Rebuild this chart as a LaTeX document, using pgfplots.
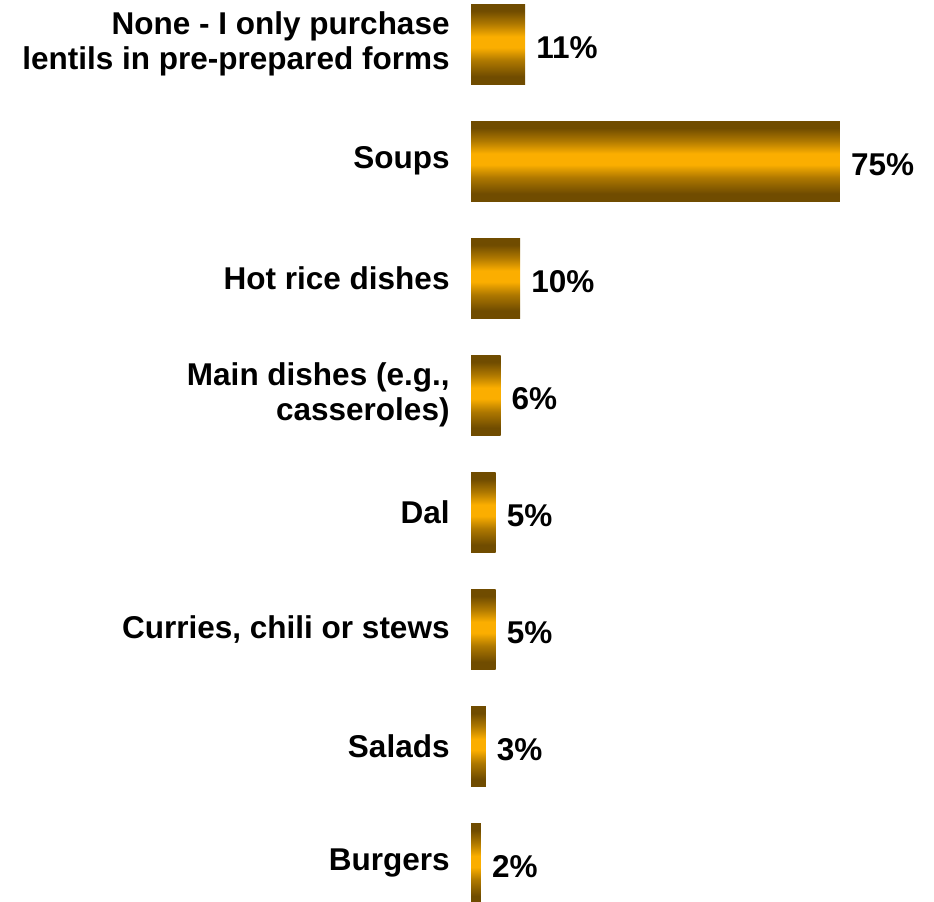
\documentclass[border=0pt]{standalone}
\usepackage{pgfplots}
\pgfplotsset{compat=1.18}
\usepackage{fontspec}
\setmainfont{Liberation Sans}
\definecolor{barDark}{HTML}{704C00}
\definecolor{barMid}{HTML}{FBAE00}
\colorlet{barHalf}{barMid!45!barDark}
\pgfdeclareverticalshading{goldshade}{100bp}{color(0bp)=(barDark); color(25bp)=(barDark); color(30bp)=(barDark); color(40bp)=(barHalf); color(48bp)=(barMid); color(55bp)=(barMid); color(63bp)=(barHalf); color(71bp)=(barDark); color(75bp)=(barDark); color(100bp)=(barDark)}
\pgfplotsset{goldbar/.style={draw=none, bar shift=0pt, shading=goldshade}}
\begin{document}
\begin{tikzpicture}
\useasboundingbox (0,0) rectangle (934bp,902bp);
\begin{axis}[
  at={(471bp,-20.5bp)}, anchor=south west,
  scale only axis,
  width=369bp, height=936.6bp,
  xbar, bar width=80bp,
  xmin=0, xmax=75,
  ymin=-0.5, ymax=7.5, y dir=reverse,
  axis line style={draw=none},
  major tick style={draw=none},
  xtick=\empty,
  ytick={0,...,7},
  yticklabels={{None - I only purchase\\lentils in pre-prepared forms},Soups,Hot rice dishes,{Main dishes (e.g.,\\casseroles)},Dal,{Curries, chili or stews},Salads,Burgers},
  yticklabel style={align=right, inner sep=0pt, xshift=-17bp, yshift=0.5bp,
    font=\fontsize{31.5bp}{35bp}\selectfont\bfseries},
  /pgf/number format/assume math mode=true,
  nodes near coords={\pgfmathprintnumber{\pgfplotspointmeta}\%},
  nodes near coords style={anchor=west, inner sep=0pt, xshift=11bp, yshift=-3bp,
    font=\fontsize{31.5bp}{35bp}\selectfont\bfseries, text=black},
  clip=false,
]
\addplot[goldbar] coordinates {(11,0)};
\addplot[goldbar] coordinates {(75,1)};
\addplot[goldbar] coordinates {(10,2)};
\addplot[goldbar] coordinates {(6,3)};
\addplot[goldbar] coordinates {(5,4)};
\addplot[goldbar] coordinates {(5,5)};
\addplot[goldbar] coordinates {(3,6)};
\addplot[goldbar] coordinates {(2,7)};
\end{axis}
\end{tikzpicture}
\end{document}
